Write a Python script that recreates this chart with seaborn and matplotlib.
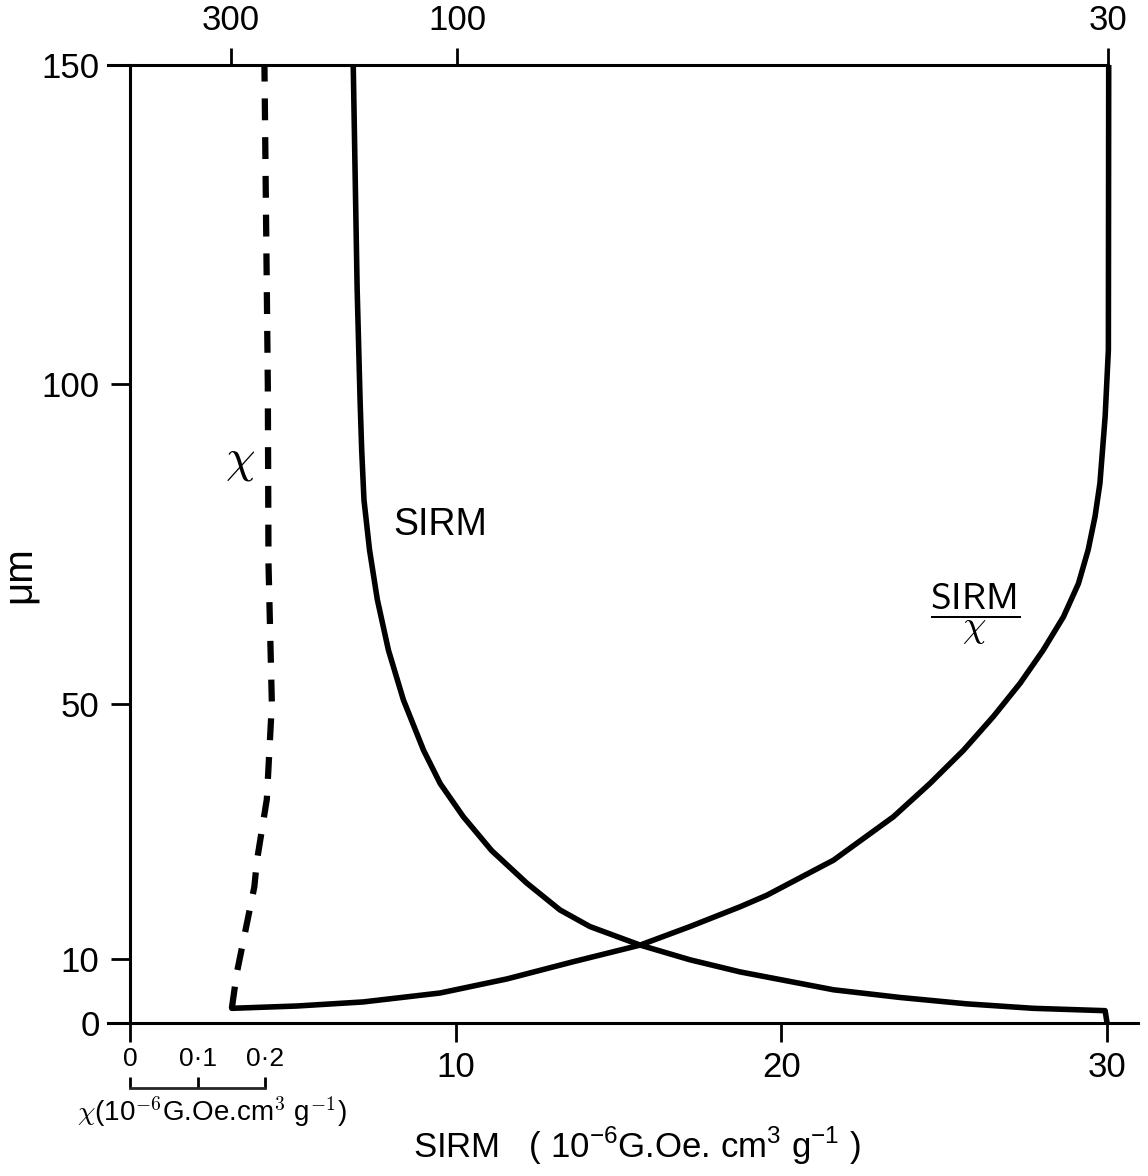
import numpy as np
import matplotlib
matplotlib.use('Agg')
import matplotlib.pyplot as plt
import seaborn as sns

# grain size (um) against SIRM, chi and SIRM/chi
sirm_um = [150, 115, 97.6, 89.7, 81.9, 74.1, 66.3, 58.4, 50.6, 42.7, 37.5, 32.3, 27.0, 21.9,
           17.7, 15.1, 12.2, 9.9, 8.0, 5.2, 4.0, 3.0, 2.3, 1.93, 0]
sirm_val = [6.85, 6.97, 7.06, 7.11, 7.18, 7.35, 7.59, 7.93, 8.39, 9.01, 9.52, 10.23, 11.1, 12.18,
            13.2, 14.12, 15.66, 17.19, 18.73, 21.6, 23.64, 25.69, 27.73, 29.94, 30.0]

ratio_um = [2.3, 2.66, 3.3, 4.7, 6.9, 9.6, 12.2, 15.1, 18.2, 20.0, 25.5, 32.3, 37.5, 42.7, 48.0,
            53.2, 58.4, 63.6, 68.8, 74.1, 79.3, 84.5, 94.9, 105.4, 150]
ratio_val = [3.12, 5.12, 7.16, 9.52, 11.57, 13.61, 15.66, 17.19, 18.73, 19.55, 21.6, 23.44, 24.56,
             25.59, 26.51, 27.33, 28.04, 28.66, 29.12, 29.42, 29.63, 29.78, 29.94, 30.04, 30.05]

chi_um = [2.3, 7.8, 13.0, 18.2, 21.3, 25.5, 35, 50, 72, 100, 115, 150]
chi_val = [0.1507, 0.158, 0.168, 0.178, 0.184, 0.188, 0.2025, 0.21, 0.205, 0.204, 0.2025, 0.199]

# axis ticks
um_ticks = [0, 10, 50, 100, 150]
sirm_ticks = [0, 10, 20, 30]
sirm_labels = ['', '10', '20', '30']
ratio_labels = ['300', '100', '30']
ratio_pos = [3.1, 10.05, 30.03]
chi_ticks = [0, 0.1, 0.2]
chi_labels = ['0', '0·1', '0·2']
CHI_TO_SIRM = 20.72   # chi scale drawn under the SIRM axis

sns.set_style('ticks')
plt.rcParams['font.family'] = ['Liberation Sans', 'DejaVu Sans']
plt.rcParams['text.color'] = 'black'
plt.rcParams['axes.labelcolor'] = 'black'
plt.rcParams['mathtext.fontset'] = 'custom'
plt.rcParams['mathtext.rm'] = 'Liberation Sans'
plt.rcParams['mathtext.it'] = 'DejaVu Sans'
plt.rcParams['mathtext.sf'] = 'Liberation Sans'

fig = plt.figure(figsize=(11.48, 11.76), dpi=100)
ax = fig.add_axes([0.0941, 0.1301, 0.8972, 0.8146])

line_kw = dict(sort=False, estimator=None, color='black', solid_joinstyle='round', ax=ax)
sns.lineplot(x=sirm_val, y=sirm_um, lw=4, **line_kw)
sns.lineplot(x=ratio_val, y=ratio_um, lw=4, **line_kw)
sns.lineplot(x=np.array(chi_val) * CHI_TO_SIRM, y=chi_um, lw=4.5,
             linestyle=(0, (3.5, 2.7)), **line_kw)

ax.set_xlim(-0.68, 30.95)
ax.set_ylim(0, 150)

ax.spines['right'].set_visible(False)
ax.spines['left'].set_position(('data', 0))
ax.spines['top'].set_bounds(-0.68, 30.03)
for s in ax.spines.values():
    s.set_linewidth(2.2)
    s.set_color('black')

ax.set_yticks(um_ticks)
ax.set_xticks(sirm_ticks, labels=sirm_labels)
ax.tick_params(axis='both', direction='out', length=14, width=2, labelsize=25, colors='black')
ax.tick_params(axis='y', pad=8)
ax.tick_params(axis='x', pad=6)

# SIRM/chi scale on top
top = ax.secondary_xaxis('top')
top.set_xticks(ratio_pos, labels=ratio_labels)
top.tick_params(direction='out', length=12, width=2, labelsize=25, pad=8, colors='black')
top.spines['top'].set_visible(False)

# chi scale under the SIRM axis
chi_ax = ax.secondary_xaxis(-0.068, functions=(lambda s: s / CHI_TO_SIRM, lambda c: c * CHI_TO_SIRM))
chi_ax.set_xticks(chi_ticks, labels=chi_labels)
chi_ax.xaxis.set_ticks_position('top')
chi_ax.spines['bottom'].set_bounds(0, 0.2)
chi_ax.spines['bottom'].set_linewidth(2)
chi_ax.spines['top'].set_visible(False)
chi_ax.tick_params(direction='out', length=8, width=2, labelsize=19, pad=4, colors='black')

ax.set_ylabel('μm', fontsize=29)
ax.yaxis.set_label_coords(-0.068, 0.468)
ax.set_xlabel(r'SIRM   ( 10$^{-6}$G.Oe. cm$^{3}$ g$^{-1}$ )', fontsize=25)
ax.xaxis.set_label_coords(0.513, -0.106)
ax.text(0.101, -0.093, r'$\chi$(10$^{-6}$G.Oe.cm$^{3}$ g$^{-1}$)', transform=ax.transAxes,
        ha='center', va='center', fontsize=20, math_fontfamily='cm')

ax.text(3.38, 88.0, r'$\chi$', fontsize=34, ha='center', va='center', math_fontfamily='cm')
ax.text(8.07, 78, 'SIRM', fontsize=27, ha='left', va='center')
ax.text(25.95, 64.0, r'$\dfrac{\mathsf{SIRM}}{\chi}$', fontsize=27, ha='center', va='center',
        math_fontfamily='cm')

fig.savefig('out.png', dpi=100, facecolor='white')
